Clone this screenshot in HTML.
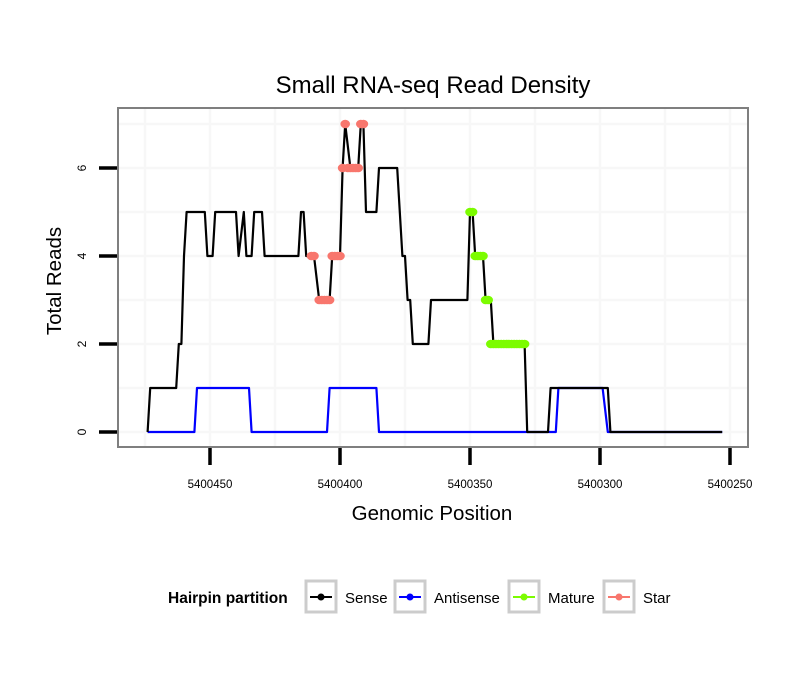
<!DOCTYPE html>
<html><head><meta charset="utf-8"><style>
body{margin:0;background:#fff}
svg{display:block;font-family:"Liberation Sans",sans-serif}
</style></head><body>
<svg id="chart" width="810" height="690" viewBox="0 0 810 690">
<text x="433" y="93" text-anchor="middle" font-size="24">Small RNA-seq Read Density</text>
<rect x="118" y="108" width="630" height="339" fill="#fff"/>
<g id="grid"></g>
<g id="series"></g>
<rect x="118" y="108" width="630" height="339" fill="none" stroke="#7f7f7f" stroke-width="2"/>
<g id="axes"></g>
<text x="432" y="520" text-anchor="middle" font-size="20.5">Genomic Position</text>
<text transform="translate(61,281) rotate(-90)" text-anchor="middle" font-size="20.5">Total Reads</text>
<g>
<text x="168" y="603" font-size="15.5" font-weight="bold">Hairpin partition</text>
<g><rect x="306" y="581" width="30" height="31" fill="#fff" stroke="#cccccc" stroke-width="3"/><line x1="310" y1="597" x2="332" y2="597" stroke="#000" stroke-width="2"/><circle cx="321" cy="597" r="3.5" fill="#000"/><text x="345" y="603" font-size="15">Sense</text></g>
<g><rect x="395" y="581" width="30" height="31" fill="#fff" stroke="#cccccc" stroke-width="3"/><line x1="399" y1="597" x2="421" y2="597" stroke="#0000ff" stroke-width="2"/><circle cx="410" cy="597" r="3.5" fill="#0000ff"/><text x="434" y="603" font-size="15">Antisense</text></g>
<g><rect x="509" y="581" width="30" height="31" fill="#fff" stroke="#cccccc" stroke-width="3"/><line x1="513" y1="597" x2="535" y2="597" stroke="#7cfc00" stroke-width="2"/><circle cx="524" cy="597" r="3.5" fill="#7cfc00"/><text x="548" y="603" font-size="15">Mature</text></g>
<g><rect x="604" y="581" width="30" height="31" fill="#fff" stroke="#cccccc" stroke-width="3"/><line x1="608" y1="597" x2="630" y2="597" stroke="#f8766d" stroke-width="2"/><circle cx="619" cy="597" r="3.5" fill="#f8766d"/><text x="643" y="603" font-size="15">Star</text></g>
</g>
</svg>
<script>
const xTicks=[5400450,5400400,5400350,5400300,5400250];
const yTicks=[0,2,4,6];
const senseOffsets=[474,473,463,462,461,460,459,452,451,449,448,440,439,437,436,434,433,430,429,416,415,414,413,410,408,404,403,400,399,398,396,393,392,391,390,386,385,378,376,375,374,373,372,366,365,351,350,349,348,345,344,342,341,329,328,320,319,297,296,253];
const senseValues=[0,1,1,2,2,4,5,5,4,4,5,5,4,5,4,4,5,5,4,4,5,5,4,4,3,3,4,4,6,7,6,6,7,7,5,5,6,6,4,4,3,3,2,2,3,3,5,5,4,4,3,3,2,2,0,0,1,1,0,0];
const antiOffsets=[474,456,455,435,434,405,404,386,385,317,316,299,297,253];
const antiValues=[0,0,1,1,0,0,1,1,0,0,1,1,0,0];
const starOffsets=[411,410,408,407,406,405,404,403,402,401,400,399,398,397,396,395,394,393,392,391];
const starValues=[4,4,3,3,3,3,3,4,4,4,4,6,7,6,6,6,6,6,7,7];
const matureOffsets=[350,349,348,347,346,345,344,343,342,341,340,339,338,337,336,335,334,333,332,331,330,329];
const matureValues=[5,5,4,4,4,4,3,3,2,2,2,2,2,2,2,2,2,2,2,2,2,2];
const BASE=5400000;
const NS='http://www.w3.org/2000/svg';
function X(p){return 210+(5400450-p)*2.6;}
function Y(v){return 432-v*44;}
function mk(tag,attrs,parent){const e=document.createElementNS(NS,tag);for(const k in attrs)e.setAttribute(k,attrs[k]);parent.appendChild(e);return e;}
const grid=document.getElementById('grid'),axes=document.getElementById('axes'),series=document.getElementById('series');
for(let v=0;v<=7;v++){const l=mk('line',{x1:119,x2:747,y1:Y(v),y2:Y(v),stroke:'#f7f7f7','stroke-width':2.5},grid);

}
for(let p=5400475;p>=5400225;p-=25){const x=X(p);if(x<119||x>747)continue;const l=mk('line',{x1:x,x2:x,y1:109,y2:446,stroke:'#f7f7f7','stroke-width':2.5},grid);

}
yTicks.forEach(v=>{const t=mk('line',{x1:99,x2:117,y1:Y(v),y2:Y(v),stroke:'#000','stroke-width':3.5},axes);


const tx=mk('text',{transform:`translate(86,${Y(v)}) rotate(-90)`,'text-anchor':'middle','font-size':12},axes);tx.textContent=v;

});
xTicks.forEach(p=>{const t=mk('line',{x1:X(p),x2:X(p),y1:448,y2:465,stroke:'#000','stroke-width':3.5},axes);


const tx=mk('text',{x:X(p),y:488,'text-anchor':'middle','font-size':11.5},axes);tx.textContent=p;

});
function line(offs,vals,col,name){const d=offs.map((p,i)=>(i?'L':'M')+X(BASE+p).toFixed(1)+','+Y(vals[i]).toFixed(1)).join('');
const e=mk('path',{d:d,fill:'none',stroke:col,'stroke-width':2.2,'stroke-linejoin':'round'},series);

}
function dots(offs,vals,col,name){offs.forEach((p,i)=>{const c=mk('ellipse',{cx:X(BASE+p),cy:Y(vals[i]),rx:4.8,ry:4.3,fill:col},series);

});}
line(antiOffsets,antiValues,'#0000ff','antisense-line');
line(senseOffsets,senseValues,'#000000','sense-line');
dots(starOffsets,starValues,'#f8766d','star-point');
dots(matureOffsets,matureValues,'#7cfc00','mature-point');
</script>
</body></html>
